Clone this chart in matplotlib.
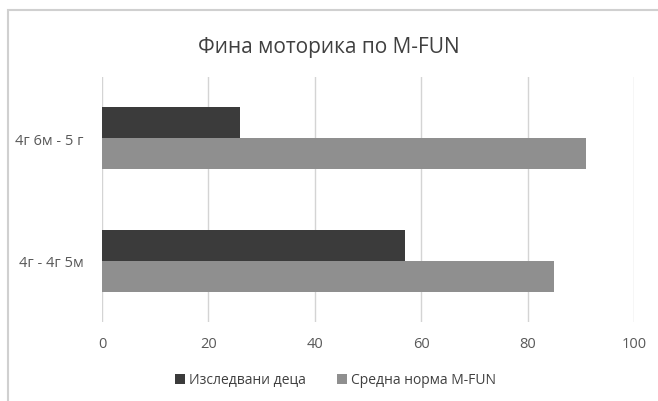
import matplotlib.pyplot as plt
from matplotlib.patches import Rectangle

categories = ["4г - 4г 5м", "4г 6м - 5 г"]
studied = [57, 26]
norm = [85, 91]
series_names = ["Изследвани деца", "Средна норма M-FUN"]

plt.rcParams['font.family'] = ['Open Sans', 'DejaVu Sans']

fig = plt.figure(figsize=(6.58, 4.02), dpi=100)
ax = fig.add_axes([102 / 658, 1 - 323 / 402, (634 - 102) / 658, (323 - 78) / 402])

h = 0.252
y = list(range(len(categories)))
ax.barh([v + h / 2 for v in y], studied, height=h, color='#3b3b3b', label=series_names[0], zorder=3)
ax.barh([v - h / 2 for v in y], norm, height=h, color='#8f8f8f', label=series_names[1], zorder=3)

ax.set_xlim(0, 100)
ax.set_ylim(-0.5, 1.5)
ax.set_xticks(range(0, 101, 20))
ax.set_yticks(y)
ax.set_yticklabels(categories)
ax.grid(axis='x', color='#d4d4d4', linewidth=1, zorder=0)
for s in ax.spines.values():
    s.set_visible(False)
ax.tick_params(length=0, labelsize=10.5, colors='#595959', pad=10)
ax.tick_params(axis='y', pad=13)

fig.text(0.5, 1 - 47 / 402, "Фина моторика по M-FUN", ha='center', va='center',
         fontsize=15, color='#404040')
fig.legend(loc='center', bbox_to_anchor=(0.51, 1 - 381 / 402), ncol=2, frameon=False,
           fontsize=10, handlelength=0.7, handleheight=0.7, columnspacing=2.2,
           handletextpad=0.3, labelcolor='#404040')

fig.patches.append(Rectangle((8 / 658, -0.1), 1.2, 1 - 11 / 402 + 0.1, transform=fig.transFigure,
                             fill=False, edgecolor='#d0d0d0', linewidth=1.5))

fig.savefig("out.png", dpi=100)
